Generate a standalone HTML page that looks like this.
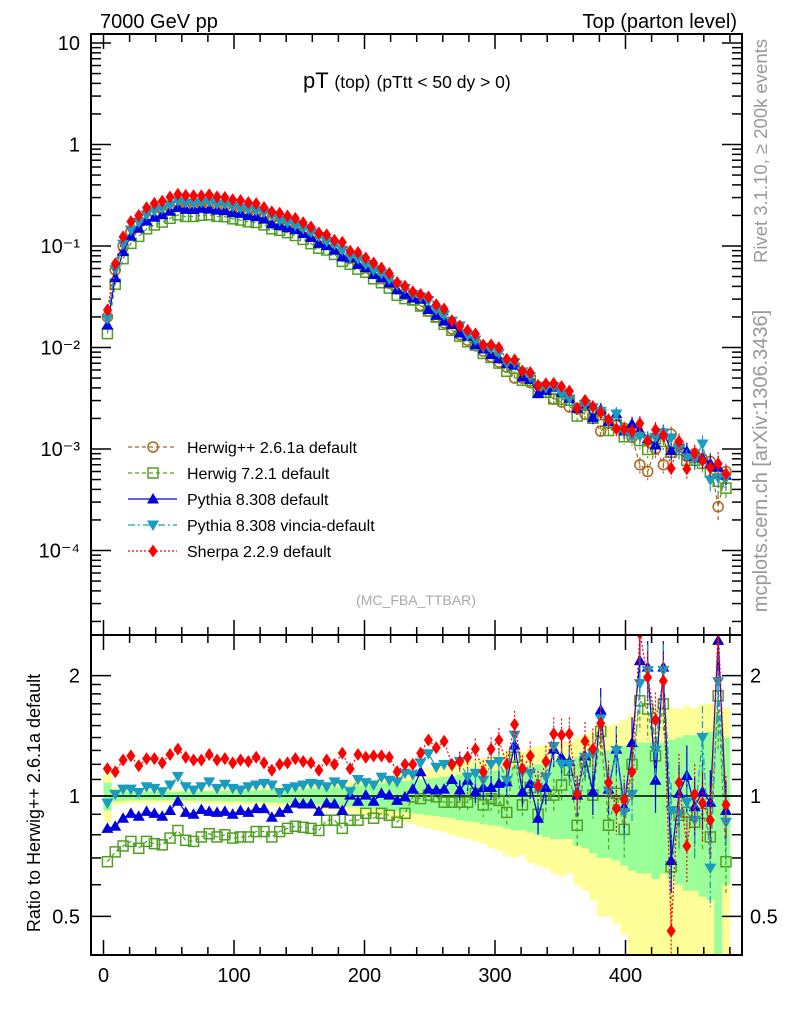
<!DOCTYPE html>
<html><head><meta charset="utf-8"><style>
html,body{margin:0;padding:0;background:#fff;}
svg{display:block;font-family:"Liberation Sans",sans-serif;}
</style></head><body>
<svg id="chart" width="786" height="1024" viewBox="0 0 786 1024" xmlns="http://www.w3.org/2000/svg">
<defs>
<clipPath id="cm"><rect x="91" y="34" width="651" height="601"/></clipPath>
<clipPath id="cr"><rect x="91" y="635" width="651" height="320"/></clipPath>
</defs>
<g id="band" clip-path="url(#cr)"></g>
<g id="ratioMarks" clip-path="url(#cr)"></g>
<g id="mainMarks" clip-path="url(#cm)"></g>
<g id="axes"></g>
<text x="100" y="28" font-size="20">7000 GeV pp</text>
<text x="737" y="28" font-size="20" text-anchor="end">Top (parton level)</text>
<text x="303" y="88" font-size="22">pT <tspan font-size="17.5">(top)</tspan> <tspan font-size="17.5">(pTtt &lt; 50 dy &gt; 0)</tspan></text>
<text x="416" y="605" font-size="14" fill="#aaa" text-anchor="middle">(MC_FBA_TTBAR)</text>
<text transform="translate(767,151) rotate(-90)" font-size="18.5" fill="#999" text-anchor="middle">Rivet 3.1.10, ≥ 200k events</text>
<text transform="translate(767,461) rotate(-90)" font-size="20" fill="#999" text-anchor="middle">mcplots.cern.ch [arXiv:1306.3436]</text>
<text transform="translate(40,803) rotate(-90)" font-size="18" text-anchor="middle">Ratio to Herwig++ 2.6.1a default</text>
<g id="legend"></g>
</svg>
<script>
const pT = [];
for (let i = 0; i < 80; i++) pT.push(6 * i + 3);
const herwigPP = [.020,.058,.100,.138,.168,.192,.212,.228,.239,.247,.252,.254,.254,.252,.248,.243,.236,.228,.219,.209,.198,.187,.175,.163,.151,.139,.127,.116,.105,.095,.085,.076,.068,.061,.054,.048,.043,.038,.0335,.0295,.026,.0228,.020,.0175,.0153,.0134,.0118,.0104,.0092,.0081,.0072,.0064,.0050,.0050,.0045,.0040,.0036,.0031,.0029,.0026,.0025,.0022,.0020,.0015,.0018,.0017,.0016,.0013,.0007,.0006,.0010,.0007,.0014,.0011,.00085,.0009,.0008,.00075,.00027,.0006];
const ratioHerwig7 = [0.685,0.725,0.75,0.77,0.74,0.77,0.76,0.755,0.785,0.82,0.775,0.77,0.79,0.805,0.79,0.8,0.785,0.79,0.79,0.815,0.815,0.79,0.815,0.83,0.84,0.835,0.83,0.82,0.87,0.87,0.83,0.87,0.87,0.905,0.88,
0.905,0.895,0.86,0.905,0.995,0.985,1.005,0.995,0.965,0.965,0.965,0.965,1.015,0.95,0.985,0.975,0.91,1.25,0.95,1.05,0.9,1.005,1.005,1.065,1.16,0.845,1.22,1.005,1.45,0.845,1.015,0.825,1.2,1.73,1.65,1.26,1.7,0.665,0.895,0.91,0.86,0.905,0.79,1.78,0.685];
const ratioPythia = [0.83,0.84,0.88,0.905,0.89,0.915,0.905,0.89,0.92,0.97,0.91,0.9,0.925,0.915,0.91,0.915,0.9,0.92,0.91,0.93,0.93,0.885,0.91,0.93,0.96,0.955,0.955,0.915,0.96,0.955,0.92,1.005,0.97,1.005,0.97,
1.015,1.005,0.975,0.995,1.04,1.15,1.04,1.035,1.04,1.1,1.035,1.095,1.025,1.05,1.05,1.075,1.085,1.34,1.025,1.075,0.88,1.05,1.31,1.25,1.22,1.005,1.26,1.025,1.64,1.04,1.31,0.94,1.36,2.18,2.1,1.095,2.1,0.69,1.015,1.125,0.94,1.025,0.965,2.45,0.92];
const ratioVincia = [0.96,1.01,1.04,1.04,1.02,1.055,1.045,1.025,1.065,1.12,1.055,1.035,1.055,1.085,1.045,1.07,1.045,1.035,1.055,1.065,1.075,1.065,1.02,1.045,1.055,1.065,1.075,1.07,1.055,1.085,1.07,1.025,1.1,1.08,1.065,
1.115,1.095,1.085,1.14,1.13,1.21,1.275,1.18,1.2,1.19,1.22,1.115,1.14,1.095,1.2,1.22,1.095,1.42,1.15,1.14,1.04,1.115,1.33,1.2,1.2,1.01,1.25,1.275,1.56,1.03,1.3,0.91,1.01,1.91,2.06,1.3,2.06,0.92,0.9,0.965,0.87,1.4,0.66,1.93,0.86];
const ratioSherpa = [1.17,1.15,1.23,1.26,1.19,1.24,1.24,1.21,1.27,1.31,1.25,1.23,1.23,1.27,1.23,1.24,1.21,1.23,1.22,1.25,1.21,1.16,1.2,1.21,1.24,1.22,1.21,1.16,1.23,1.2,1.28,1.17,1.27,1.25,1.26,
1.26,1.25,1.15,1.2,1.2,1.28,1.38,1.32,1.37,1.2,1.22,1.25,1.31,1.15,1.31,1.38,1.2,1.51,1.17,1.26,1.06,1.22,1.43,1.42,1.43,1.01,1.37,1.31,1.52,1.08,0.93,0.98,1.15,2.55,1.98,1.55,1.94,0.46,1.08,0.75,1.01,0.96,0.87,2.65,0.95];
const yellowErr = [0.14,0.05,0.045,0.04,0.04,0.04,0.04,0.04,0.04,0.04,0.04,0.04,0.042,0.042,0.044,0.045,0.046,0.048,0.05,0.05,0.052,0.055,0.058,0.06,0.063,0.066,0.07,0.073,0.077,0.08,0.085,0.09,0.095,0.1,0.105,
0.11,0.12,0.13,0.14,0.15,0.16,0.17,0.18,0.19,0.2,0.21,0.22,0.23,0.24,0.26,0.27,0.29,0.3,0.29,0.32,0.33,0.34,0.36,0.37,0.36,0.4,0.42,0.45,0.5,0.5,0.52,0.55,0.6,0.62,0.62,0.65,0.62,0.66,0.65,0.68,0.66,0.7,0.7,0.65,0.66];
const greenErr = [0.08,0.03,0.027,0.025,0.025,0.025,0.025,0.025,0.025,0.025,0.026,0.026,0.027,0.028,0.028,0.03,0.03,0.031,0.032,0.033,0.035,0.036,0.038,0.04,0.042,0.044,0.046,0.048,0.05,0.053,0.056,0.06,0.063,0.067,0.07,
0.075,0.08,0.085,0.09,0.095,0.1,0.105,0.11,0.115,0.12,0.13,0.135,0.14,0.15,0.155,0.16,0.17,0.18,0.18,0.19,0.2,0.21,0.22,0.22,0.22,0.25,0.26,0.28,0.3,0.3,0.31,0.33,0.35,0.36,0.36,0.38,0.36,0.38,0.4,0.42,0.42,0.44,0.45,0.6,0.4];
const xTicks = [0,100,200,300,400];
const mainYTicks = ["10","1","10⁻¹","10⁻²","10⁻³","10⁻⁴"];
const ratioYTicks = ["0.5","1","2"];

const NS = "http://www.w3.org/2000/svg";
const X = v => 103.5 + 1.305 * v;
const Y = v => 43 + 101.5 * (1 - Math.log10(v));
const R = r => 796 - 400 * Math.log10(r);
function mk(tag, attrs, parent) {
  const e = document.createElementNS(NS, tag);
  for (const k in attrs) e.setAttribute(k, attrs[k]);
  parent.appendChild(e);
  return e;
}
const axes = document.getElementById('axes');
const band = document.getElementById('band');
const rm = document.getElementById('ratioMarks');
const mm = document.getElementById('mainMarks');
const legend = document.getElementById('legend');

for (let i = 0; i < pT.length; i++) {
  const x0 = X(pT[i] - 3), x1 = X(pT[i] + 3);
  const ye = yellowErr[i], ge = greenErr[i];
  const yr = mk('rect', {x: x0, y: R(1 + ye), width: x1 - x0 + 0.3, height: R(Math.max(1 - ye, 0.05)) - R(1 + ye), fill: '#ffff99'}, band);
  
  
  const gr = mk('rect', {x: x0, y: R(1 + ge), width: x1 - x0 + 0.3, height: R(Math.max(1 - ge, 0.05)) - R(1 + ge), fill: '#99ff99'}, band);
  
  
}
const one = mk('line', {x1: 91, x2: 742, y1: R(1), y2: R(1), stroke: '#000', 'stroke-width': 1.5}, band);



function marker(type, color, cx, cy, parent) {
  let e;
  if (type === 'circle') e = mk('circle', {cx, cy, r: 5, fill: 'none', stroke: color, 'stroke-width': 1.5}, parent);
  else if (type === 'square') e = mk('rect', {x: cx - 5, y: cy - 5, width: 10, height: 10, fill: 'none', stroke: color, 'stroke-width': 1.5}, parent);
  else if (type === 'up') e = mk('path', {d: `M${cx},${cy-6}L${cx+6},${cy+4.5}L${cx-6},${cy+4.5}Z`, fill: color}, parent);
  else if (type === 'down') e = mk('path', {d: `M${cx},${cy+6}L${cx+6},${cy-4.5}L${cx-6},${cy-4.5}Z`, fill: color}, parent);
  else e = mk('path', {d: `M${cx},${cy-6.5}L${cx+4.5},${cy}L${cx},${cy+6.5}L${cx-4.5},${cy}Z`, fill: color}, parent);
  return e;
}
const series = [
  {name: 'Herwig++ 2.6.1a default', key: 'herwigpp', ratio: null, color: '#b0651c', type: 'circle', dash: '4,3'},
  {name: 'Herwig 7.2.1 default', key: 'herwig7', ratio: ratioHerwig7, color: '#4f9f23', type: 'square', dash: '4,3'},
  {name: 'Pythia 8.308 default', key: 'pythia', ratio: ratioPythia, color: '#0000e0', type: 'up', dash: ''},
  {name: 'Pythia 8.308 vincia-default', key: 'vincia', ratio: ratioVincia, color: '#1a9cc0', type: 'down', dash: '7,3,2,3'},
  {name: 'Sherpa 2.2.9 default', key: 'sherpa', ratio: ratioSherpa, color: '#ff0000', type: 'diamond', dash: '2,2'}
];
series.forEach((s, si) => {
  const rat = i => s.ratio ? s.ratio[i] : 1;
  const val = i => herwigPP[i] * rat(i);
  let d = '';
  pT.forEach((p, i) => { d += (i ? 'L' : 'M') + X(p).toFixed(1) + ',' + Y(val(i)).toFixed(1); });
  const ml = mk('path', {d, fill: 'none', stroke: s.color, 'stroke-width': 1.2, 'stroke-dasharray': s.dash}, mm);
  
  
  pT.forEach((p, i) => {
    if (i >= 50) {
      const e = greenErr[i] * 0.5;
      const eb = mk('line', {x1: X(p), x2: X(p), y1: Y(val(i) * (1 + e)), y2: Y(val(i) * Math.max(1 - e, 0.2)), stroke: s.color, 'stroke-width': 1.2, 'stroke-dasharray': s.dash}, mm);
      
      
    }
    const m = marker(s.type, s.color, X(p), Y(val(i)), mm);
    
    
  });
  if (s.ratio) {
    let d2 = '';
    pT.forEach((p, i) => { d2 += (i ? 'L' : 'M') + X(p).toFixed(1) + ',' + R(rat(i)).toFixed(1); });
    const rl = mk('path', {d: d2, fill: 'none', stroke: s.color, 'stroke-width': 1.2, 'stroke-dasharray': s.dash}, rm);
    
    
    pT.forEach((p, i) => {
      if (i >= 45) {
        const e = greenErr[i] * 0.45;
        const eb = mk('line', {x1: X(p), x2: X(p), y1: R(rat(i) * (1 + e)), y2: R(rat(i) * Math.max(1 - e, 0.2)), stroke: s.color, 'stroke-width': 1.2, 'stroke-dasharray': s.dash}, rm);
        
        
      }
      const m = marker(s.type, s.color, X(p), R(rat(i)), rm);
      
      
    });
  }
  const ly = 447 + 26 * si;
  const ll = mk('line', {x1: 128, x2: 177, y1: ly, y2: ly, stroke: s.color, 'stroke-width': 1.2, 'stroke-dasharray': s.dash}, legend);
  
  
  const lm = marker(s.type, s.color, 153, ly, legend);
  
  
  const lt = mk('text', {x: 187, y: ly + 6, 'font-size': 16}, legend);
  lt.textContent = s.name;
  
  
});

[[34, 601], [635, 320]].forEach(([y, h]) => {
  const f = mk('rect', {x: 91, y, width: 651, height: h, fill: 'none', stroke: '#000', 'stroke-width': 2}, axes);
  
  
});
function tick(x1, y1, x2, y2) {
  const t = mk('line', {x1, y1, x2, y2, stroke: '#000', 'stroke-width': 1.5}, axes);
  
  
}
for (let v = 0; v <= 480; v += 20) {
  const major = v % 100 === 0, x = X(v), L = major ? 15 : 8;
  tick(x, 34, x, 34 + L); tick(x, 635, x, 635 - L);
  tick(x, 635, x, 635 + L); tick(x, 955, x, 955 - L);
}
xTicks.forEach(v => {
  const t = mk('text', {x: X(v), y: 982, 'font-size': 20, 'text-anchor': 'middle'}, axes);
  t.textContent = String(v);
  
  
});
for (let e = -5; e <= 1; e++) {
  for (let k = 1; k <= 9; k++) {
    const v = k * Math.pow(10, e), y = Y(v);
    if (y < 35 || y > 634) continue;
    const L = k === 1 ? 20 : 10;
    tick(91, y, 91 + L, y); tick(742, y, 742 - L, y);
  }
}
mainYTicks.forEach((lab, j) => {
  const v = Math.pow(10, 1 - j);
  const t = mk('text', {x: 80, y: Y(v) + 7, 'font-size': 20, 'text-anchor': 'end'}, axes);
  t.textContent = lab;
  
  
});
[0.4,0.5,0.6,0.7,0.8,0.9,1,1.1,1.2,1.3,1.4,1.5,1.6,1.7,1.8,1.9,2].forEach(r => {
  const y = R(r); if (y > 954) return;
  const L = (r === 0.5 || r === 1 || r === 2) ? 20 : 10;
  tick(91, y, 91 + L, y); tick(742, y, 742 - L, y);
});
ratioYTicks.forEach(lab => {
  const y = R(parseFloat(lab)) + 7;
  const t = mk('text', {x: 80, y, 'font-size': 20, 'text-anchor': 'end'}, axes);
  t.textContent = lab;
  
  
  const t2 = mk('text', {x: 750, y, 'font-size': 20}, axes);
  t2.textContent = lab;
  
  
});
</script>
</body></html>
